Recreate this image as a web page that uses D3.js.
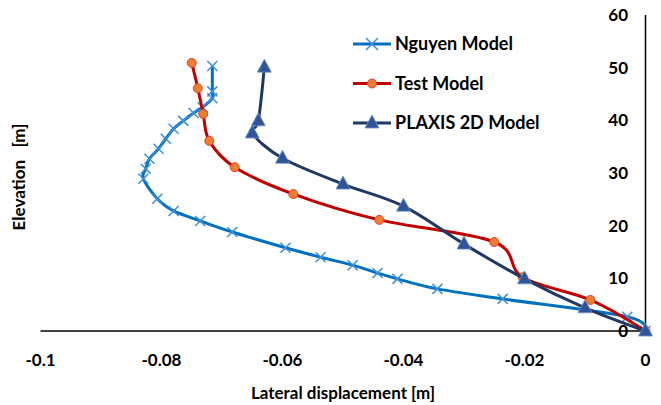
<!DOCTYPE html>
<html>

<head>
    <meta charset="UTF-8">
    <title>lateral displacement</title>
    <style>
        body { margin: 0; background: #fff; }
        text { font-family: Lato, "Open Sans", sans-serif; font-weight: bold; fill: #000; }
    </style>
</head>

<body>
    <script src="https://cdn.jsdelivr.net/npm/d3@7/dist/d3.min.js"></script>

    <svg id="svg" width="661" height="405"></svg>

    <script>
        // data (displacement in m, elevation in m)
        const seriesNames = ["Nguyen Model", "Test Model", "PLAXIS 2D Model"];

        const nguyenDisp = [-0.0716, -0.0716, -0.0716, -0.0732, -0.0747, -0.0764, -0.0780, -0.0793, -0.0805, -0.0820,
            -0.0826, -0.0830, -0.0807, -0.0780, -0.0736, -0.0683, -0.0595, -0.0537, -0.0484, -0.0443,
            -0.0410, -0.0344, -0.0236, -0.0030, 0];
        const nguyenElev = [50.3, 45.5, 44.2, 42.5, 41.4, 39.9, 38.4, 36.5, 34.6, 32.7,
            30.8, 28.9, 25.1, 22.8, 20.9, 18.8, 15.8, 14.0, 12.5, 11.0,
            9.9, 8.0, 6.1, 2.7, 0];

        const testDisp = [-0.0750, -0.0740, -0.0731, -0.0721, -0.0679, -0.0582, -0.0440, -0.0250, -0.0203, -0.0091, 0];
        const testElev = [50.9, 46.1, 41.2, 36.1, 31.1, 26.0, 21.1, 16.9, 10.2, 5.9, 0];

        const plaxisDisp = [-0.063, -0.064, -0.065, -0.06, -0.05, -0.04, -0.03, -0.02, -0.01, 0];
        const plaxisElev = [50.1, 39.9, 37.6, 32.8, 27.9, 23.7, 16.5, 9.9, 4.4, 0];

        const xTicks = [-0.1, -0.08, -0.06, -0.04, -0.02, 0];
        const yTicks = [0, 10, 20, 30, 40, 50, 60];

        const svg = d3.select("#svg");

        const x = d3.scaleLinear().domain([-0.1, 0]).range([40.5, 645.5]);
        const y = d3.scaleLinear().domain([0, 60]).range([331, 15]);

        // axes: just the lines, labels placed by hand like excel does
        svg.append("line")
            .attr("x1", x(-0.1)).attr("x2", x(0))
            .attr("y1", y(0)).attr("y2", y(0))
            .attr("stroke", "#000").attr("stroke-width", 1.5);
        svg.append("line")
            .attr("x1", x(0)).attr("x2", x(0))
            .attr("y1", y(60)).attr("y2", y(0))
            .attr("stroke", "#000").attr("stroke-width", 1.5);

        svg.append("g").selectAll("text")
            .data(xTicks)
            .enter().append("text")
            .attr("x", d => x(d))
            .attr("y", 366)
            .attr("text-anchor", "middle")
            .style("font-size", "17px")
            .text(d => String(d));

        svg.append("g").selectAll("text")
            .data(yTicks)
            .enter().append("text")
            .attr("x", 628)
            .attr("y", d => y(d) + 6)
            .attr("text-anchor", "end")
            .style("font-size", "17px")
            .text(d => d);

        svg.append("text")
            .attr("x", 343).attr("y", 399)
            .attr("text-anchor", "middle")
            .style("font-size", "17px")
            .text("Lateral displacement [m]");

        svg.append("text")
            .attr("transform", "translate(25,177) rotate(-90)")
            .attr("text-anchor", "middle")
            .style("font-size", "17px")
            .style("white-space", "pre")
            .attr("xml:space", "preserve")
            .text("Elevation   [m]");

        const smooth = d3.line().x(d => x(d[0])).y(d => y(d[1])).curve(d3.curveCatmullRom.alpha(0));

        const zip = (a, b) => a.map((v, i) => [v, b[i]]);
        const nguyen = zip(nguyenDisp, nguyenElev);
        const test = zip(testDisp, testElev);
        const plaxis = zip(plaxisDisp, plaxisElev);

        // marker drawing helpers
        const cross = function (g, s) {
            g.append("path")
                .attr("d", `M${-s},${-s}L${s},${s}M${-s},${s}L${s},${-s}`)
                .attr("stroke", "#3d8fdc").attr("stroke-width", 1.5).attr("fill", "none");
        };
        const dot = function (g) {
            g.append("circle").attr("r", 4.5)
                .attr("fill", "#ed7d31").attr("stroke", "#e0452a").attr("stroke-width", 1);
        };
        const tri = function (g) {
            g.append("path").attr("d", "M0,-8L7,5L-7,5Z")
                .attr("fill", "#2f5597").attr("stroke", "#6f93cf").attr("stroke-width", 0.8);
        };

        // Nguyen
        svg.append("path").datum(nguyen)
            .attr("d", smooth).attr("fill", "none")
            .attr("stroke", "#0070c0").attr("stroke-width", 3);
        svg.append("g").selectAll("g").data(nguyen).enter().append("g")
            .attr("transform", d => `translate(${x(d[0])},${y(d[1])})`)
            .each(function () { cross(d3.select(this), 5); });

        // Test
        svg.append("path").datum(test)
            .attr("d", smooth).attr("fill", "none")
            .attr("stroke", "#c00000").attr("stroke-width", 3);
        svg.append("g").selectAll("g").data(test).enter().append("g")
            .attr("transform", d => `translate(${x(d[0])},${y(d[1])})`)
            .each(function () { dot(d3.select(this)); });

        // PLAXIS
        svg.append("path").datum(plaxis)
            .attr("d", smooth).attr("fill", "none")
            .attr("stroke", "#203864").attr("stroke-width", 3);
        svg.append("g").selectAll("g").data(plaxis).enter().append("g")
            .attr("transform", d => `translate(${x(d[0])},${y(d[1])})`)
            .each(function () { tri(d3.select(this)); });

        // legend
        const legendColors = ["#0070c0", "#c00000", "#203864"];
        const legendMarks = [g => cross(g, 6), dot, tri];
        const legend = svg.append("g").selectAll("g")
            .data(seriesNames)
            .enter().append("g")
            .attr("transform", (d, i) => `translate(353,${44 + i * 39.5})`);
        legend.append("line")
            .attr("x1", 0).attr("x2", 38)
            .attr("stroke", (d, i) => legendColors[i]).attr("stroke-width", 3);
        legend.append("g").attr("transform", "translate(19,0)")
            .each(function (d, i) { legendMarks[i](d3.select(this)); });
        legend.append("text")
            .attr("x", 42).attr("y", 6)
            .style("font-size", "18px")
            .text(d => d);
    </script>

</body>

</html>
